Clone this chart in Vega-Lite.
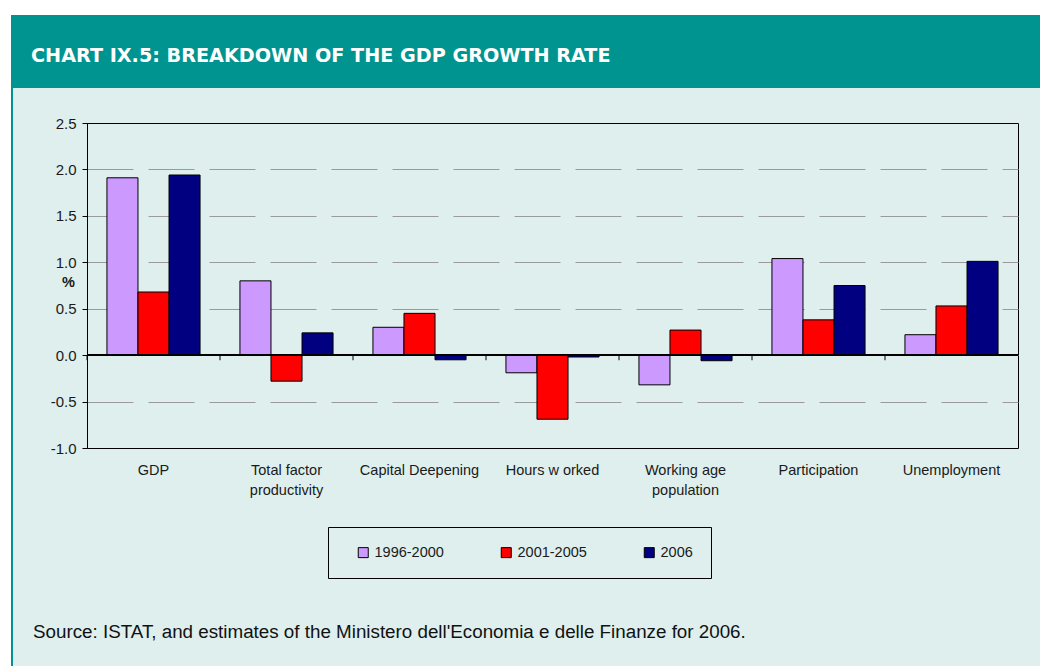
{
  "$schema": "https://vega.github.io/schema/vega-lite/v6.json",
  "background": "#deefee",
  "padding": 0,
  "spacing": 0,
  "config": {
    "view": {"stroke": null},
    "font": "Liberation Sans",
    "concat": {"spacing": 0}
  },
  "vconcat": [
    {
      "width": 1040, "height": 15,
      "view": {"fill": "#ffffff", "stroke": null},
      "data": {"values": [{"t": ""}]},
      "mark": {"type": "text"},
      "encoding": {"text": {"field": "t"}}
    },
    {
      "spacing": 0,
      "hconcat": [
        {
          "width": 11, "height": 651,
          "view": {"fill": "#ffffff", "stroke": null},
          "data": {"values": [{"t": ""}]},
          "mark": {"type": "text"},
          "encoding": {"text": {"field": "t"}}
        },
        {
          "width": 2, "height": 651,
          "view": {"fill": "#009490", "stroke": null},
          "data": {"values": [{"t": ""}]},
          "mark": {"type": "text"},
          "encoding": {"text": {"field": "t"}}
        },
        {
          "spacing": 0,
          "vconcat": [
            {
              "width": 1027, "height": 73,
              "view": {"fill": "#009490", "stroke": null},
              "title": {
                "text": "CHART IX.5: BREAKDOWN OF THE GDP GROWTH RATE",
                "orient": "top", "anchor": "start", "frame": "group",
                "dx": 18, "offset": -66, "baseline": "alphabetic",
                "color": "#ffffff", "font": "DejaVu Sans", "fontSize": 19.2, "fontWeight": "bold"
              },
              "data": {"values": [{"t": ""}]},
              "mark": {"type": "text"},
              "encoding": {"text": {"field": "t"}}
            },
            {
              "width": 20, "height": 27,
              "data": {"values": [{"t": ""}]},
              "mark": {"type": "text"},
              "encoding": {"text": {"field": "t"}}
            },
            {
              "spacing": 0,
              "hconcat": [
                {
                  "width": 19, "height": 10,
                  "data": {"values": [{"t": ""}]},
                  "mark": {"type": "text"},
                  "encoding": {"text": {"field": "t"}}
                },
                {
                  "width": 931, "height": 325,
                  "view": {"stroke": "#000000", "strokeWidth": 1},
                  "title": {
                    "text": "Source: ISTAT, and estimates of the Ministero dell'Economia e delle Finanze for 2006.",
                    "orient": "bottom", "anchor": "start", "frame": "group",
                    "dx": -54, "offset": 126,
                    "font": "Liberation Sans", "fontSize": 18.8, "fontWeight": "normal", "color": "#111111"
                  },
                  "data": {"values": [
                    {"category": "GDP", "period": "1996-2000", "value": 1.91},
                    {"category": "GDP", "period": "2001-2005", "value": 0.68},
                    {"category": "GDP", "period": "2006", "value": 1.94},
                    {"category": "Total factor productivity", "period": "1996-2000", "value": 0.80},
                    {"category": "Total factor productivity", "period": "2001-2005", "value": -0.28},
                    {"category": "Total factor productivity", "period": "2006", "value": 0.24},
                    {"category": "Capital Deepening", "period": "1996-2000", "value": 0.30},
                    {"category": "Capital Deepening", "period": "2001-2005", "value": 0.45},
                    {"category": "Capital Deepening", "period": "2006", "value": -0.05},
                    {"category": "Hours w orked", "period": "1996-2000", "value": -0.19},
                    {"category": "Hours w orked", "period": "2001-2005", "value": -0.69},
                    {"category": "Hours w orked", "period": "2006", "value": -0.02},
                    {"category": "Working age population", "period": "1996-2000", "value": -0.32},
                    {"category": "Working age population", "period": "2001-2005", "value": 0.27},
                    {"category": "Working age population", "period": "2006", "value": -0.06},
                    {"category": "Participation", "period": "1996-2000", "value": 1.04},
                    {"category": "Participation", "period": "2001-2005", "value": 0.38},
                    {"category": "Participation", "period": "2006", "value": 0.75},
                    {"category": "Unemployment", "period": "1996-2000", "value": 0.22},
                    {"category": "Unemployment", "period": "2001-2005", "value": 0.53},
                    {"category": "Unemployment", "period": "2006", "value": 1.01}
                  ]},
                  "layer": [
                    {
                      "mark": {"type": "bar", "stroke": "#000000", "strokeWidth": 1},
                      "encoding": {
                        "x": {
                          "field": "category", "type": "nominal",
                          "sort": ["GDP", "Total factor productivity", "Capital Deepening", "Hours w orked", "Working age population", "Participation", "Unemployment"],
                          "scale": {"paddingInner": 0.3, "paddingOuter": 0.15},
                          "axis": {
                            "title": null, "labelAngle": 0, "domain": false, "ticks": false,
                            "labelPadding": 15, "labelFontSize": 14.5, "labelColor": "#1a1a1a",
                            "labelLineHeight": 20, "labelBaseline": "top",
                            "labelExpr": "datum.value == 'Total factor productivity' ? ['Total factor', 'productivity'] : datum.value == 'Working age population' ? ['Working age', 'population'] : datum.value"
                          }
                        },
                        "xOffset": {
                          "field": "period", "type": "nominal",
                          "sort": ["1996-2000", "2001-2005", "2006"],
                          "scale": {"paddingInner": 0, "paddingOuter": 0}
                        },
                        "y": {
                          "field": "value", "type": "quantitative",
                          "scale": {"domain": [-1, 2.5], "nice": false, "zero": false},
                          "axis": {
                            "values": [-1, -0.5, 0, 0.5, 1, 1.5, 2, 2.5],
                            "labelExpr": "replace(format(datum.value, '.1f'), '\u2212', '-')",
                            "grid": true,
                            "gridColor": {"condition": {"test": "datum.value == 2.5 || datum.value == -1", "value": "transparent"}, "value": "#9a9a9a"},
                            "gridDash": [46, 15], "gridWidth": 1,
                            "domain": true, "domainColor": "#000000", "tickColor": "#000000", "tickSize": 5,
                            "labelPadding": 6, "labelFontSize": 15, "labelColor": "#1a1a1a",
                            "labelFlush": false, "labelOverlap": false,
                            "title": "%", "titleAngle": 0, "titleX": -19, "titleY": 159,
                            "titleAlign": "center", "titleBaseline": "middle",
                            "titleFontSize": 14.5, "titleFontWeight": "bold", "titleColor": "#1a1a1a"
                          }
                        },
                        "color": {
                          "field": "period", "type": "nominal",
                          "sort": ["1996-2000", "2001-2005", "2006"],
                          "scale": {"domain": ["1996-2000", "2001-2005", "2006"], "range": ["#cc99ff", "#ff0000", "#000080"]},
                          "legend": {
                            "title": null, "orient": "none", "legendX": 328, "legendY": 527,
                            "direction": "horizontal", "symbolType": "square", "symbolSize": 100,
                            "symbolStrokeColor": "#000000", "symbolStrokeWidth": 1, "symbolOpacity": 1,
                            "labelFontSize": 14.5, "labelColor": "#1a1a1a", "labelOffset": 4,
                            "columnPadding": 45, "padding": 18, "symbolOffset": 10,
                            "strokeColor": "#000000", "fillColor": "#deefee"
                          }
                        }
                      }
                    },
                    {
                      "data": {"values": [
                        {"category": "GDP"},
                        {"category": "Total factor productivity"},
                        {"category": "Capital Deepening"},
                        {"category": "Hours w orked"},
                        {"category": "Working age population"},
                        {"category": "Participation"},
                        {"category": "Unemployment"}
                      ]},
                      "mark": {"type": "rule", "color": "#000000", "strokeWidth": 1},
                      "encoding": {
                        "x": {
                          "field": "category", "type": "nominal", "bandPosition": 0,
                          "sort": ["GDP", "Total factor productivity", "Capital Deepening", "Hours w orked", "Working age population", "Participation", "Unemployment"],
                          "scale": {"paddingInner": 0, "paddingOuter": 0},
                          "axis": null
                        },
                        "y": {"datum": 0},
                        "y2": {"datum": -0.055}
                      }
                    },
                    {
                      "mark": {"type": "rule", "color": "#000000", "strokeWidth": 1},
                      "encoding": {"y": {"datum": 0}}
                    }
                  ],
                  "resolve": {"scale": {"x": "independent"}, "axis": {"x": "independent"}}
                }
              ]
            }
          ]
        }
      ]
    }
  ]
}
